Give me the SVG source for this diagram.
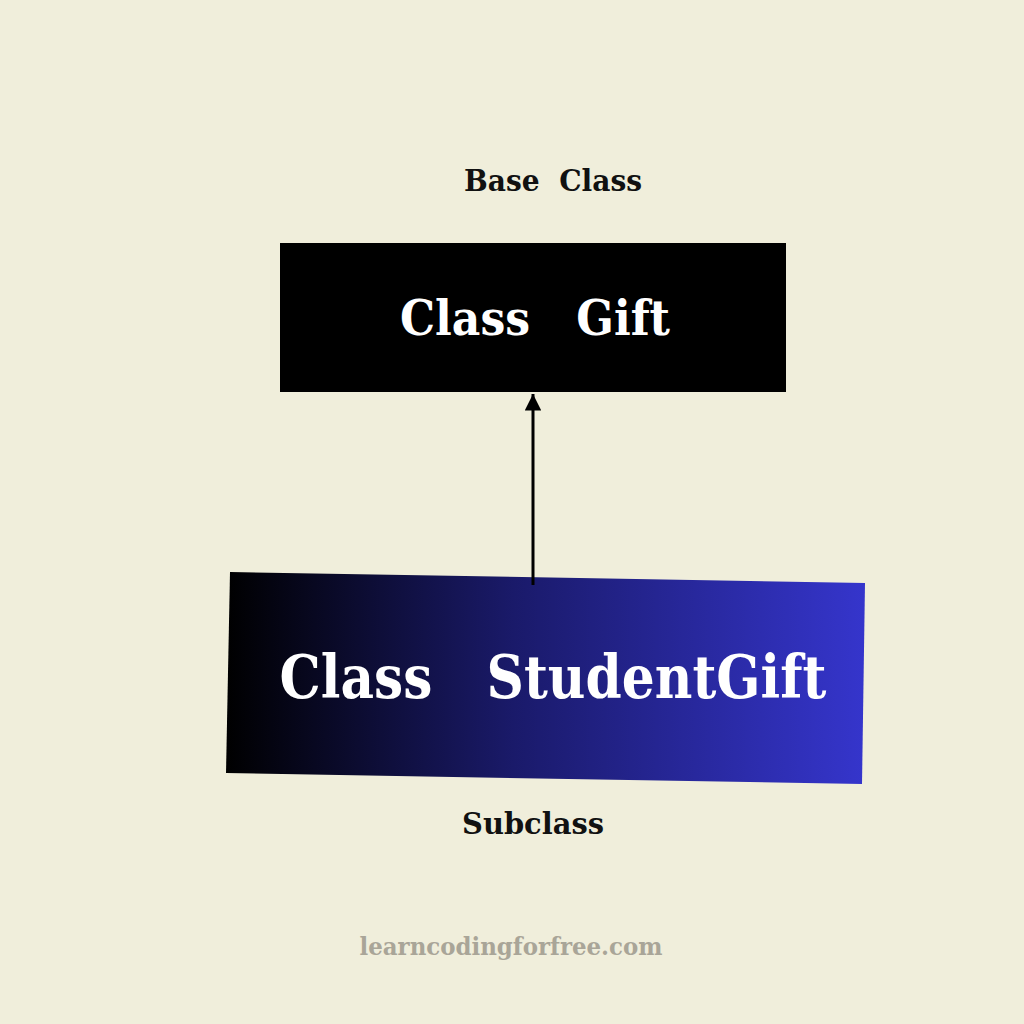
<svg xmlns="http://www.w3.org/2000/svg" width="1024" height="1024" viewBox="0 0 1024 1024">
<style>
.t{font-family:"DejaVu Serif","Liberation Serif",serif;font-weight:bold;text-anchor:middle}
.w{fill:#ffffff}
.k{fill:#111111}
</style>
<defs>
<linearGradient id="g" x1="0" y1="0" x2="1" y2="0">
<stop offset="0" stop-color="#000000"/>
<stop offset="0.45" stop-color="#1a1a6a"/>
<stop offset="1" stop-color="#3535cc"/>
</linearGradient>
<marker id="ah" viewBox="0 0 10 10" refX="10" refY="5" markerWidth="5.5" markerHeight="5.5" orient="auto" markerUnits="strokeWidth">
<path d="M0,0 L10,5 L0,10 z" fill="#000"/>
</marker>
</defs>
<rect width="1024" height="1024" fill="#f0eedb"/>
<text class="t k" x="553" y="191" font-size="30" textLength="178" lengthAdjust="spacingAndGlyphs" xml:space="preserve">Base  Class</text>
<g id="gift">
<rect x="280" y="243" width="506" height="149" fill="#000"/>
<text class="t w" x="535" y="335" font-size="49" textLength="270" lengthAdjust="spacingAndGlyphs" xml:space="preserve">Class   Gift</text>
</g>
<g id="studentgift">
<polygon points="230,572 865,583 862,784 226,773" fill="url(#g)"/>
<text class="t w" x="553" y="698" font-size="59" textLength="547" lengthAdjust="spacingAndGlyphs" xml:space="preserve">Class   StudentGift</text>
</g>
<g id="connectors">
<line x1="533" y1="585" x2="533" y2="394" stroke="#000" stroke-width="3" marker-end="url(#ah)"/>
</g>
<text class="t k" x="533" y="834" font-size="30" textLength="142" lengthAdjust="spacingAndGlyphs">Subclass</text>
<text class="t" x="511" y="955" font-size="24" fill="#a9a598" textLength="303" lengthAdjust="spacingAndGlyphs">learncodingforfree.com</text>
</svg>
